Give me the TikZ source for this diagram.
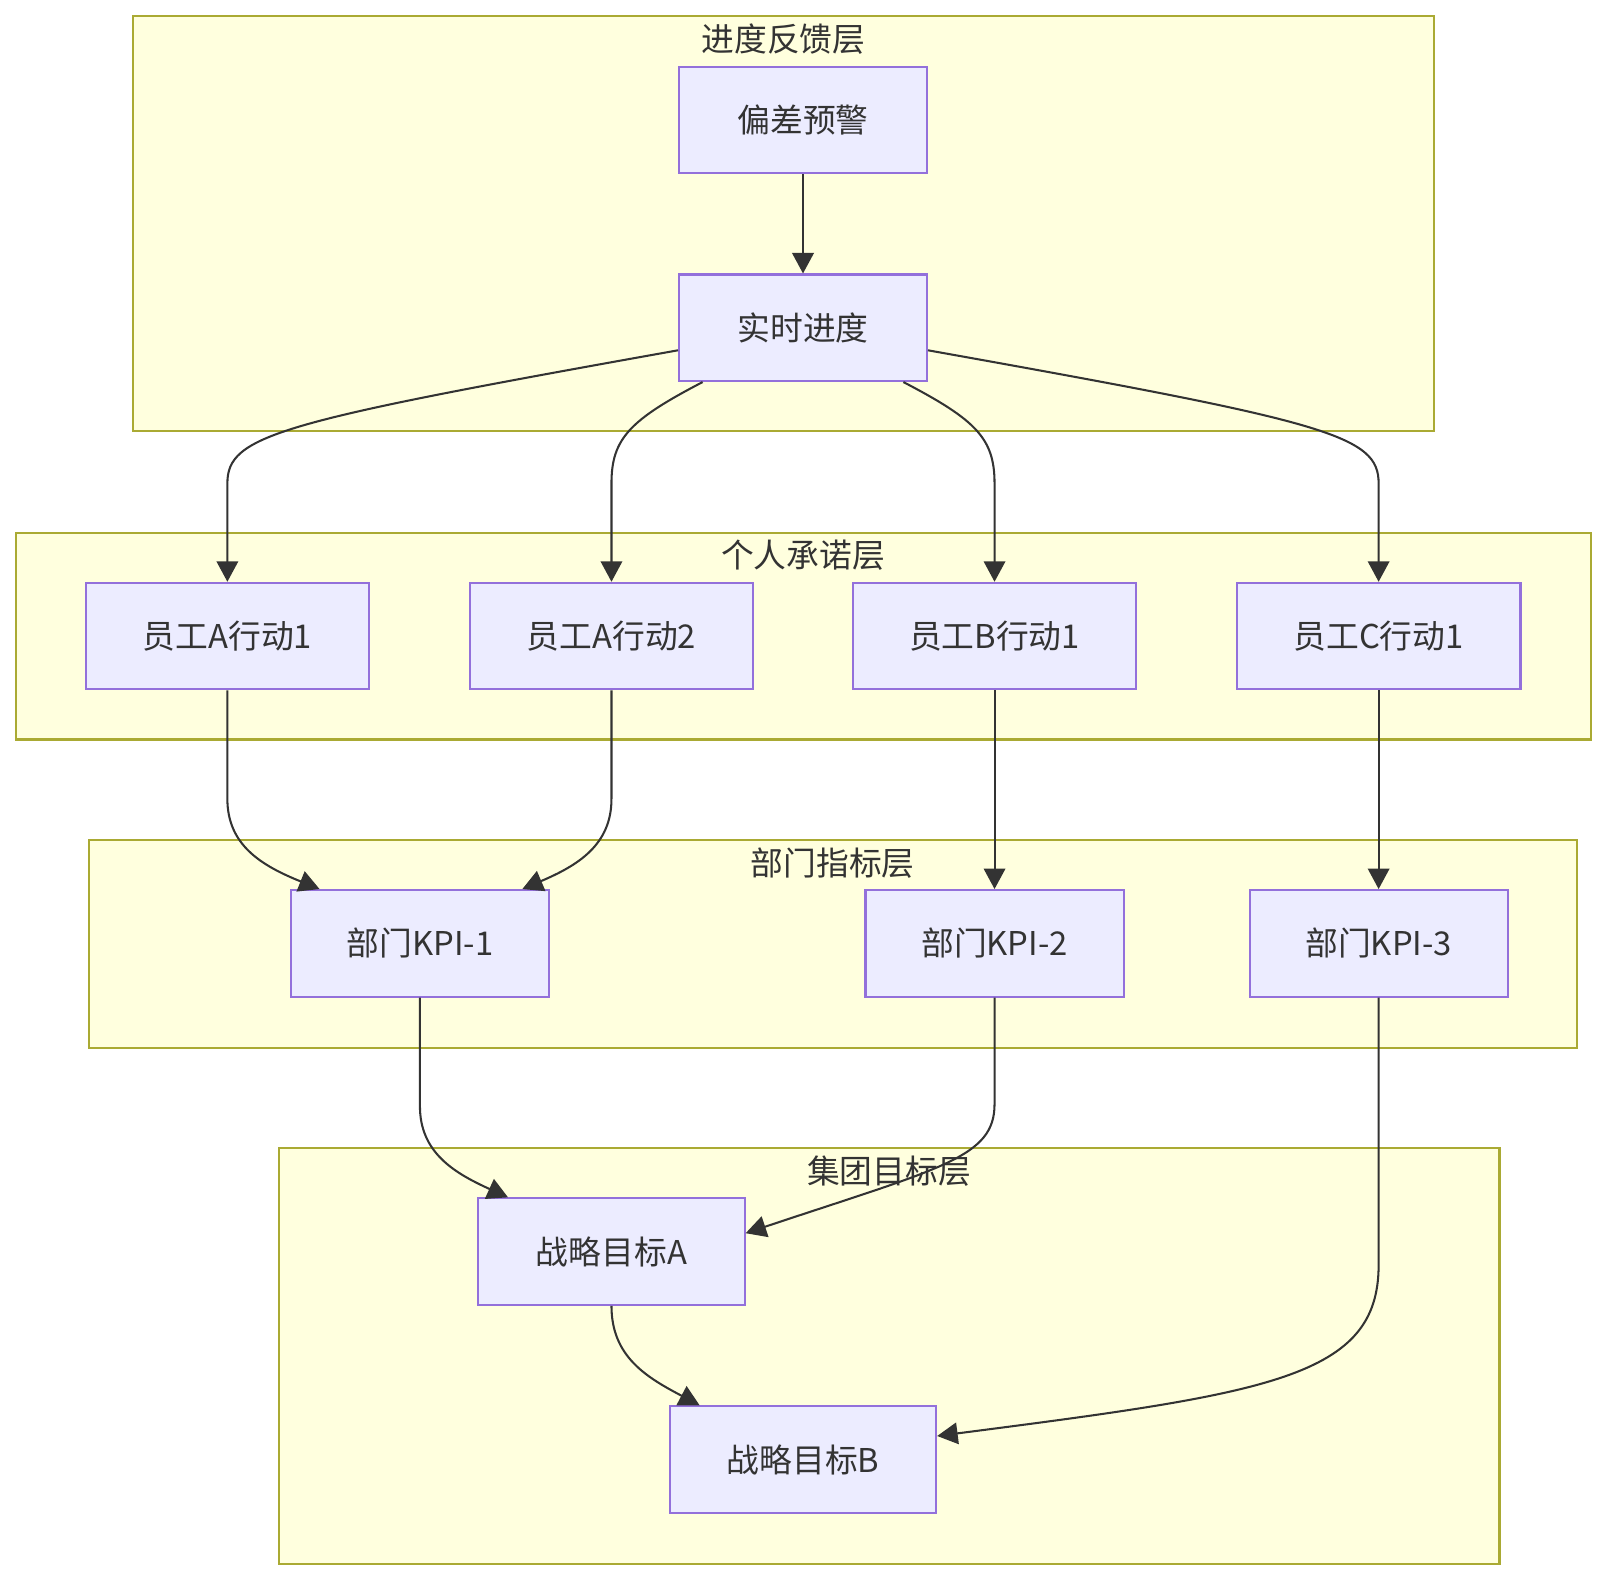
\documentclass[tikz,border=0pt]{standalone}
\usepackage{fontspec}
\setmainfont{Noto Sans CJK SC}
\usetikzlibrary{arrows.meta,calc}
\definecolor{clfill}{HTML}{FFFFDE}
\definecolor{clline}{HTML}{AAAA33}
\definecolor{ndfill}{HTML}{ECECFF}
\definecolor{ndline}{HTML}{9370DB}
\definecolor{txt}{HTML}{333333}
\begin{document}
\begin{tikzpicture}[x=0.5pt,y=-0.5pt,
  cluster/.style={draw=clline,fill=clfill,line width=1pt},
  ctitle/.style={text=txt,font=\fontsize{16pt}{18pt}\selectfont,inner sep=0pt},
  box/.style={draw=ndline,fill=ndfill,line width=1pt,text=txt,font=\fontsize{16pt}{18pt}\selectfont,minimum height=52pt,inner sep=0pt},
  link/.style={draw=txt,line width=1pt,-{Triangle[length=10pt,width=10.5pt]}}]
\useasboundingbox (0,0) rectangle (1568,1543);
% clusters
\path[cluster] (130,16) rectangle (1400,421);
\path[cluster] (16,520) rectangle (1553,722);
\path[cluster] (87,820) rectangle (1540,1023);
\path[cluster] (272,1121) rectangle (1464,1527);
\node[ctitle] (t1) at (765,38) {进度反馈层};
\node[ctitle] (t2) at (784,542) {个人承诺层};
\node[ctitle] (t3) at (813,843) {部门指标层};
% nodes
\node[box,minimum width=121pt] (pw) at (784,117) {偏差预警};
\node[box,minimum width=121pt] (rt) at (784,320) {实时进度};
\node[box,minimum width=138.5pt] (a1) at (222,621) {员工A行动1};
\node[box,minimum width=138.5pt] (a2) at (597,621) {员工A行动2};
\node[box,minimum width=138.5pt] (b1) at (971,621) {员工B行动1};
\node[box,minimum width=138.5pt] (c1) at (1346,621) {员工C行动1};
\node[box,minimum width=126pt] (k1) at (410,921) {部门KPI-1};
\node[box,minimum width=126pt] (k2) at (971,921) {部门KPI-2};
\node[box,minimum width=126pt] (k3) at (1346,921) {部门KPI-3};
\node[box,minimum width=130pt] (ga) at (597,1222) {战略目标A};
\node[box,minimum width=130pt] (gb) at (784,1425) {战略目标B};
\node[ctitle] (t4) at (868,1143) {集团目标层};
% edges
\draw[link] (pw.south) -- (rt.north);
\draw[link] ([yshift=-11pt]rt.west) .. controls (270,412) and (222,425) .. (222,472) -- (a1.north);
\draw[link] ([xshift=-49pt]rt.south) .. controls (615,410) and (597,428) .. (597,472) -- (a2.north);
\draw[link] ([xshift=49pt]rt.south) .. controls (953,410) and (971,428) .. (971,472) -- (b1.north);
\draw[link] ([yshift=-11pt]rt.east) .. controls (1298,412) and (1346,425) .. (1346,472) -- (c1.north);
\draw[link] (a1.south) -- (222,780) .. controls (222,825) and (255,845) .. ([xshift=14.5pt]k1.north west);
\draw[link] (a2.south) -- (597,780) .. controls (597,825) and (564,845) .. ([xshift=-13.5pt]k1.north east);
\draw[link] (b1.south) -- (k2.north);
\draw[link] (c1.south) -- (k3.north);
\draw[link] (k1.south) -- (410,1080) .. controls (410,1125) and (443,1145) .. ([xshift=15pt]ga.north west);
\draw[link] (k2.south) -- (971,1078) .. controls (971,1130) and (920,1140) .. ([yshift=-17.5pt]ga.north east);
\draw[link] (k3.south) -- (1346,1235) .. controls (1346,1345) and (1240,1360) .. ([yshift=-15pt]gb.north east);
\draw[link] (ga.south) .. controls (597,1325) and (632,1345) .. ([xshift=15pt]gb.north west);
\end{tikzpicture}
\end{document}
